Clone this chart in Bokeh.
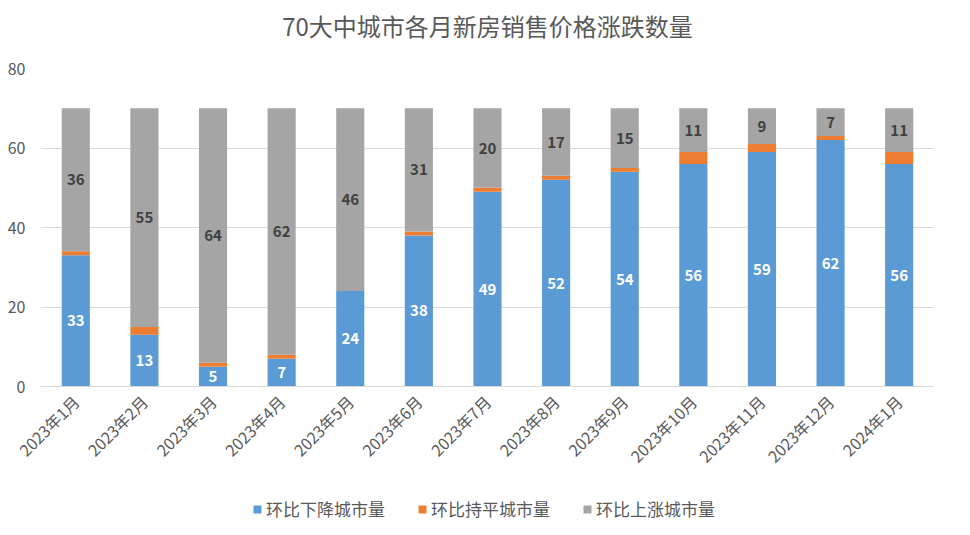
import math
from bokeh.plotting import figure
from bokeh.layouts import column
from bokeh.models import (ColumnDataSource, FactorRange, Range1d, Legend, LegendItem,
                          LabelSet, SingleIntervalTicker)
from bokeh.embed import file_html
from bokeh.resources import INLINE
from bokeh.core.properties import value

title_text = "70大中城市各月新房销售价格涨跌数量"
months = ["2023年1月", "2023年2月", "2023年3月", "2023年4月", "2023年5月", "2023年6月",
          "2023年7月", "2023年8月", "2023年9月", "2023年10月", "2023年11月", "2023年12月", "2024年1月"]
down = [33, 13, 5, 7, 24, 38, 49, 52, 54, 56, 59, 62, 56]
flat = [1, 2, 1, 1, 0, 1, 1, 1, 1, 3, 2, 1, 3]
up = [36, 55, 64, 62, 46, 31, 20, 17, 15, 11, 9, 7, 11]
series = ["环比下降城市量", "环比持平城市量", "环比上涨城市量"]
colors = ["#5B9BD5", "#ED7D31", "#A5A5A5"]

FONT = "Noto Sans CJK SC"
W = 962


def bare(fig):
    fig.outline_line_color = None
    fig.xgrid.grid_line_color = None
    fig.ygrid.grid_line_color = None
    fig.background_fill_color = "white"
    fig.border_fill_color = "white"
    return fig


# ---- title strip ----
pt = bare(figure(width=W, height=50, x_range=Range1d(0, 1), y_range=Range1d(0, 1),
                 x_axis_location=None, y_axis_location=None,
                 output_backend="svg", toolbar_location=None,
                 min_border=0))
pt.text(x=[0.5], y=[0.5], text=[title_text], text_align="center", text_baseline="middle",
        text_font=value(FONT), text_font_size="24px", text_color="#595959")

# ---- main chart ----
src = ColumnDataSource(dict(
    m=months, down=down, flat=flat, up=up,
    down_mid=[d / 2 for d in down],
    up_mid=[d + f + u / 2 for d, f, u in zip(down, flat, up)],
    down_lbl=[str(v) for v in down],
    up_lbl=[str(v) for v in up],
))

p = figure(x_range=FactorRange(*months, range_padding=0), y_range=Range1d(0, 80),
           width=W, height=446, output_backend="svg", toolbar_location=None,
           min_border_left=41, min_border_right=29, min_border_top=18, min_border_bottom=110)

rs = p.vbar_stack(["down", "flat", "up"], x="m", width=0.41, source=src,
                  color=colors, line_color=None)

lbl_down = LabelSet(x="m", y="down_mid", text="down_lbl", source=src,
                    text_align="center", text_baseline="middle",
                    text_color="white", text_font=value(FONT), text_font_style="bold",
                    text_font_size="15px")
lbl_up = LabelSet(x="m", y="up_mid", text="up_lbl", source=src,
                  text_align="center", text_baseline="middle",
                  text_color="#404040", text_font=value(FONT), text_font_style="bold",
                  text_font_size="15px")
p.add_layout(lbl_down)
p.add_layout(lbl_up)

p.outline_line_color = None
p.background_fill_color = "white"
p.border_fill_color = "white"
p.xgrid.grid_line_color = None
p.ygrid.grid_line_color = "#D9D9D9"
p.ygrid.grid_line_width = 1
p.yaxis.ticker = SingleIntervalTicker(interval=20)
p.yaxis.axis_line_color = None
p.yaxis.major_tick_line_color = None
p.yaxis.minor_tick_line_color = None
p.yaxis.major_label_text_font = FONT
p.yaxis.major_label_text_font_size = "16px"
p.yaxis.major_label_text_color = "#595959"
p.yaxis.major_label_standoff = 10

p.xaxis.axis_line_color = "#D9D9D9"
p.xaxis.major_tick_line_color = None
p.xaxis.minor_tick_line_color = None
p.xaxis.major_label_orientation = math.pi / 4
p.xaxis.major_label_text_font = FONT
p.xaxis.major_label_text_font_size = "16px"
p.xaxis.major_label_text_color = "#595959"
p.xaxis.major_label_standoff = 6

# ---- legend strip (zero-size swatch renderers only feed the legend) ----
pl = bare(figure(width=W, height=30, x_range=Range1d(0, 1), y_range=Range1d(0, 1),
                 x_axis_location=None, y_axis_location=None,
                 output_backend="svg", toolbar_location=None, min_border=0))
swatch_src = ColumnDataSource(dict(x=[0], top=[0]))
swatches = [pl.vbar(x="x", top="top", width=0, source=swatch_src, color=c, line_color=None)
            for c in colors]
legend = Legend(items=[LegendItem(label=series[i], renderers=[swatches[i]]) for i in range(3)],
                orientation="horizontal", location=(211, 5),
                label_text_font=FONT, label_text_font_size="17px", label_text_color="#595959",
                glyph_width=10, glyph_height=10, spacing=32, label_standoff=4,
                margin=0, padding=0, label_height=20,
                border_line_color=None, background_fill_alpha=0)
pl.add_layout(legend, "center")

layout = column(pt, p, pl, spacing=0)
open("out.html", "w").write(file_html(layout, INLINE))
